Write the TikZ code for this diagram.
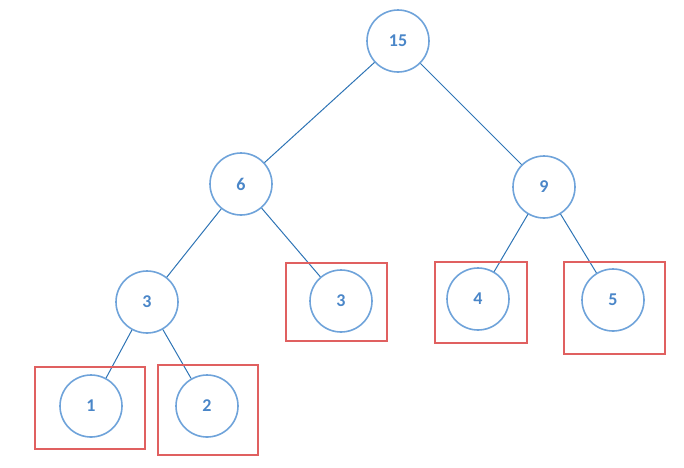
\documentclass[tikz,border=0pt]{standalone}
\usepackage{fontspec}
\setsansfont{Carlito}
\definecolor{circ}{HTML}{6FA3DA}
\definecolor{edge}{HTML}{2E74B5}
\definecolor{txt}{HTML}{4A86C8}
\definecolor{boxred}{HTML}{E06060}
\begin{document}
\begin{tikzpicture}[x=1pt,y=-1pt,
  tn/.style={circle,draw=circ,line width=1.6pt,minimum size=62pt,inner sep=0pt,
    text=txt,font=\sffamily\bfseries\fontsize{18}{20}\selectfont},
  ed/.style={draw=edge,line width=1pt},
  rb/.style={draw=boxred,line width=1.6pt}]
\useasboundingbox (0,0) rectangle (684,467);
\node[tn] (n15) at (398,41) {15};
\node[tn] (n6) at (241,184) {6};
\node[tn] (n9) at (544,187) {9};
\node[tn] (n3a) at (147,302) {3};
\node[tn] (n3b) at (341,301) {3};
\node[tn] (n4) at (478,299) {4};
\node[tn] (n5) at (613,300) {5};
\node[tn] (n1) at (91,406) {1};
\node[tn] (n2) at (207,406) {2};
\draw[ed] (n15) -- (n6);
\draw[ed] (n15) -- (n9);
\draw[ed] (n6) -- (n3a);
\draw[ed] (n6) -- (n3b);
\draw[ed] (n9) -- (n4);
\draw[ed] (n9) -- (n5);
\draw[ed] (n3a) -- (n1);
\draw[ed] (n3a) -- (n2);
\draw[rb] (35,367) rectangle (145,449);
\draw[rb] (158,365) rectangle (258,455);
\draw[rb] (286,263) rectangle (387,341);
\draw[rb] (435,262) rectangle (527,343);
\draw[rb] (564,262) rectangle (665,354);
\end{tikzpicture}
\end{document}
